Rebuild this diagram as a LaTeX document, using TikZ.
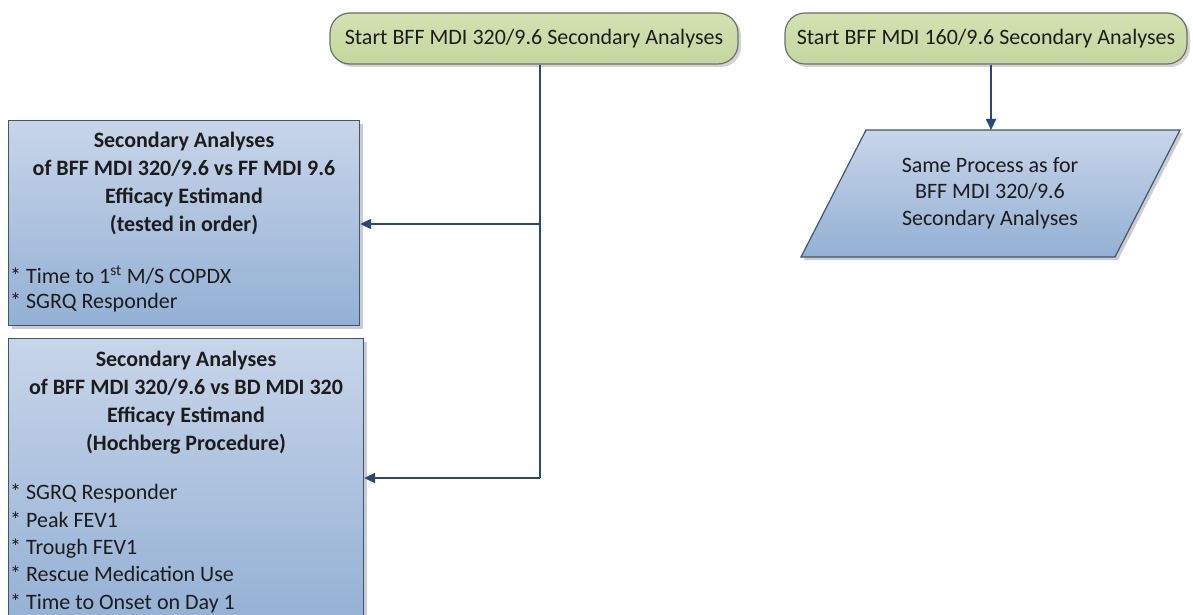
\documentclass[tikz,border=0pt]{standalone}
\usepackage{fontspec}
\setmainfont{Carlito}
\usetikzlibrary{arrows.meta,shadows}

\definecolor{startfill}{HTML}{D3E2B1}
\definecolor{startfillb}{HTML}{C4D69E}
\definecolor{startline}{HTML}{66736A}
\definecolor{boxtop}{HTML}{C8D5E9}
\definecolor{boxbot}{HTML}{93B0D4}
\definecolor{boxline}{HTML}{3E5573}
\definecolor{flow}{HTML}{284878}
\definecolor{ink}{HTML}{1C1C1C}

\tikzset{
  txt/.style={font=\fontsize{22}{28}\selectfont, text=ink, inner sep=0pt},
  startbox/.style={draw=startline, line width=1.2pt, rounded corners=20pt,
    top color=startfill, bottom color=startfillb,
    minimum height=51pt, txt,
    drop shadow={shadow xshift=3pt, shadow yshift=-3pt, opacity=0.35}},
  procbox/.style={draw=boxline, line width=1.2pt,
    top color=boxtop, bottom color=boxbot,
    drop shadow={shadow xshift=3pt, shadow yshift=-3pt, opacity=0.4}},
  flowline/.style={draw=flow, line width=2pt},
  flowarrow/.style={flowline, -{Triangle[length=11pt,width=10pt]}},
}

\begin{document}
\begin{tikzpicture}[x=1pt, y=-1pt]
  \useasboundingbox (0,0) rectangle (1193,615);
  \clip (0,0) rectangle (1193,615);

  % start terminators
  \node[startbox, minimum width=408pt] (s1) at (534,38.5)
    {Start BFF MDI 320/9.6 Secondary Analyses};
  \node[startbox, minimum width=402pt] (s2) at (986,38.5)
    {Start BFF MDI 160/9.6 Secondary Analyses};

  % first secondary analysis family
  \node[procbox, minimum width=351pt, minimum height=205pt, anchor=north west] (b1) at (8,120) {};
  \node[txt, font=\fontsize{22}{28}\selectfont\bfseries, align=center, anchor=north] (b1title) at (184,132)
    {Secondary Analyses\\of BFF MDI 320/9.6 vs FF MDI 9.6\\Efficacy Estimand\\(tested in order)};
  \node[txt, font=\fontsize{22}{25}\selectfont, align=left, anchor=north west] (b1list) at (10,266)
    {* Time to 1\textsuperscript{st} M/S COPDX\\* SGRQ Responder};

  % second secondary analysis family
  \node[procbox, minimum width=355pt, minimum height=290pt, anchor=north west] (b2) at (8,338) {};
  \node[txt, font=\fontsize{22}{28}\selectfont\bfseries, align=center, anchor=north] (b2title) at (186,351)
    {Secondary Analyses\\of BFF MDI 320/9.6 vs BD MDI 320\\Efficacy Estimand\\(Hochberg Procedure)};
  \node[txt, font=\fontsize{22}{27.3}\selectfont, align=left, anchor=north west] (b2list) at (10,484)
    {* SGRQ Responder\\* Peak FEV1\\* Trough FEV1\\* Rescue Medication Use\\* Time to Onset on Day 1};

  % parallelogram for the 160/9.6 dose
  \path[procbox] (866,130) -- (1180,130) -- (1115,257) -- (801,257) -- cycle;
  \coordinate (ptop) at (991,130);
  \node[txt, align=center, font=\fontsize{22}{26.5}\selectfont, anchor=north] (p) at (990,157)
    {Same Process as for\\BFF MDI 320/9.6\\Secondary Analyses};

  % connectors
  \coordinate (split) at (540,478);
  \draw[flowline] (s1.south -| split) -- (split);
  \draw[flowarrow] (s1.south -| split) |- (b1.east |- 0,224);
  \draw[flowarrow] (split) -- (b2.east |- split);
  \draw[flowarrow] (s2.south -| ptop) -- (ptop);
\end{tikzpicture}
\end{document}
